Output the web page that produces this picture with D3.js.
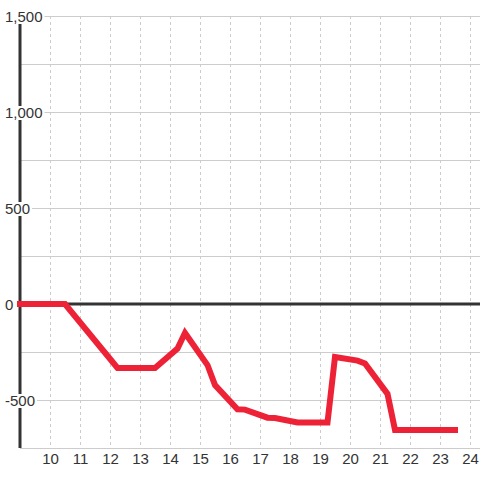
<!DOCTYPE html>
<html>
<head>
<meta charset="utf-8">
<script src="https://cdn.jsdelivr.net/npm/d3@7"></script>
<style>
  body { margin: 0; background: #fff; }
  svg { display: block; font-family: "Liberation Sans", Arial, sans-serif; }
</style>
</head>
<body>
<script>
// uren van de dag en de waarden van de lijn
var uren = [9, 10.5, 12.25, 13.5, 14.25, 14.5, 15.25, 15.5, 16.25, 16.5, 17.25, 17.5, 18.25, 19.25, 19.5, 20.25, 20.5, 21.25, 21.5, 23.5];
var waarden = [0, 0, -333, -333, -232, -151, -318, -422, -548, -550, -592, -594, -617, -617, -276, -295, -310, -468, -656, -656];

// ticks voor de assen
var xTicks = [10, 11, 12, 13, 14, 15, 16, 17, 18, 19, 20, 21, 22, 23, 24];
var yGrid = [1500, 1250, 1000, 750, 500, 250, 0, -250, -500, -750];
var yLabels = [1500, 1000, 500, 0, -500];

var breedte = 480, hoogte = 480;
var marge = {boven: 16, beneden: 32, links: 20, rechts: 0};

var svg = d3.select("body").append("svg")
    .attr("width", breedte)
    .attr("height", hoogte);

var x = d3.scaleLinear()
    .domain([9, 24 + 1 / 3])
    .range([marge.links, breedte - marge.rechts]);

var y = d3.scaleLinear()
    .domain([-750, 1500])
    .range([hoogte - marge.beneden, marge.boven]);

// horizontale rasterlijnen
svg.append("g").selectAll("line")
    .data(yGrid)
    .enter().append("line")
    .attr("x1", x(9)).attr("x2", breedte)
    .attr("y1", function(d) { return y(d) + 0.5; })
    .attr("y2", function(d) { return y(d) + 0.5; })
    .attr("stroke", "#cccccc")
    .attr("stroke-width", 1);

// verticale gestippelde rasterlijnen
svg.append("g").selectAll("line")
    .data(xTicks)
    .enter().append("line")
    .attr("x1", function(d) { return x(d) + 0.5; })
    .attr("x2", function(d) { return x(d) + 0.5; })
    .attr("y1", y(1500)).attr("y2", y(-750))
    .attr("stroke", "#cccccc")
    .attr("stroke-dasharray", "3,3");

// nul-lijn
svg.append("line")
    .attr("x1", x(9)).attr("x2", breedte)
    .attr("y1", y(0)).attr("y2", y(0))
    .attr("stroke", "#333333")
    .attr("stroke-width", 3);

// y-as lijn
svg.append("line")
    .attr("x1", x(9)).attr("x2", x(9))
    .attr("y1", y(1500)).attr("y2", y(-750))
    .attr("stroke", "#333333")
    .attr("stroke-width", 3);

// x-as labels
var asX = d3.axisBottom(x).tickValues(xTicks).tickSize(0).tickPadding(0)
    .tickFormat(d3.format("d"));
var gX = svg.append("g")
    .attr("transform", "translate(0," + (y(-750) + 5) + ")")
    .call(asX);
gX.select(".domain").remove();
gX.selectAll("text")
    .attr("dy", "0.71em")
    .attr("font-size", "15px")
    .attr("font-family", null)
    .attr("fill", "#333333");

// y-as labels met witte achtergrond
var labels = svg.append("g").selectAll("g")
    .data(yLabels)
    .enter().append("g");

labels.append("text")
    .attr("x", 5)
    .attr("y", function(d) { return y(d) + 6; })
    .attr("font-size", "15px")
    .attr("fill", "#333333")
    .text(function(d) { return d3.format(",")(d).replace("−", "-"); });

labels.each(function() {
  var g = d3.select(this);
  var t = g.select("text");
  var b = t.node().getBBox();
  g.insert("rect", "text")
    .attr("x", b.x - 2)
    .attr("y", b.y + 2)
    .attr("width", b.width + 4)
    .attr("height", b.height - 3)
    .attr("fill", "#ffffff");
});

// de rode lijn
var lijn = d3.line()
    .x(function(d, i) { return x(uren[i]); })
    .y(function(d) { return y(d); });

svg.append("path")
    .datum(waarden)
    .attr("d", lijn)
    .attr("fill", "none")
    .attr("stroke", "#ee2236")
    .attr("stroke-width", 6)
    .attr("stroke-linecap", "square")
    .attr("stroke-linejoin", "miter");
</script>
</body>
</html>
